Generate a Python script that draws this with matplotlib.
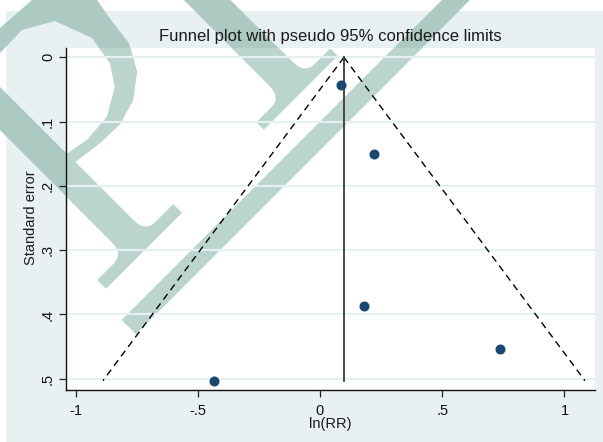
import numpy as np
import matplotlib
matplotlib.use("Agg")
import matplotlib.pyplot as plt
from matplotlib.patches import Rectangle, PathPatch, Polygon
from matplotlib.path import Path

plt.rcParams['font.family'] = ['Liberation Sans', 'DejaVu Sans']

# study estimates
lnrr = [0.085, 0.222, 0.181, 0.736, -0.434]
se = [0.043, 0.150, 0.387, 0.453, 0.503]

# pooled estimate and funnel depth
theta = 0.098
se_max = 0.503
z95 = 1.96

yticks = [0, 0.1, 0.2, 0.3, 0.4, 0.5]
ytick_labels = ["0", ".1", ".2", ".3", ".4", ".5"]
xticks = [-1, -0.5, 0, 0.5, 1]
xtick_labels = ["-1", "-.5", "0", ".5", "1"]

W, H = 603, 442
BG = '#e8f0f1'
MARK_BG = '#acc9c2'
MARK_WHITE = '#bbd5ce'

fig = plt.figure(figsize=(W / 100, H / 100), dpi=100, facecolor='white')

# panel layout in pixels
L, R, T, B = 66, 595, 48, 390
ax_rect = [L / W, 1 - B / H, (R - L) / W, (B - T) / H]

fig.add_artist(Rectangle((6 / W, 0), 1 - 6 / W, 1 - 11 / H, transform=fig.transFigure,
                         facecolor=BG, edgecolor='none', zorder=-3))
plot_bg = Rectangle((ax_rect[0], ax_rect[1]), ax_rect[2], ax_rect[3], transform=fig.transFigure,
                    facecolor='white', edgecolor='none', zorder=-2.5)
fig.add_artist(plot_bg)


# ---- logo watermark, drawn in pixel space ----
def to_fig(pts):
    return [(x / W, 1 - y / H) for x, y in pts]


def uv(u, v):
    s = np.sqrt(2)
    return ((u + v) / s, (u - v) / s)


def bracket(p0, c, p1, n=6):
    t = np.linspace(0, 1, n)
    p0, c, p1 = map(np.array, (p0, c, p1))
    return [tuple((1 - k) ** 2 * p0 + 2 * (1 - k) * k * c + k ** 2 * p1) for k in t]


def stem_with_foot(v0, v1, ub, uf0, uf1, fv0, fv1):
    pts = [(-200, v0)]
    pts += bracket((ub, v0), (uf0, v0), (uf0, v0 - 14))
    pts += [(uf0, fv0), (uf1, fv0), (uf1, fv1), (uf0, fv1)]
    pts += bracket((uf0, v1 + 14), (uf0, v1), (ub, v1))
    pts += [(-200, v1)]
    return [uv(u, v) for u, v in pts]


p_stem = stem_with_foot(-92, -61.5, 250, 267, 279, -129, -22)
l_stem = stem_with_foot(130, 163, 251, 268, 278, 95, 199)
underline = [uv(312.5, -140), uv(332.3, -140), uv(332.3, 700), uv(312.5, 700)]

bowl_outer = [(75, 162), (100, 143), (120, 124), (133, 100), (137, 72), (129, 43), (111, 20),
              (97, 0), (85, -15), (65, -22), (45, -15), (32, 0), (0, 28), (-30, 57)]
bowl_inner = [(67, 154), (87, 140), (107, 117), (115, 87), (110, 63), (92, 38), (55, 21),
              (22, 30), (0, 53), (-15, 72)][::-1]


def bowl_path():
    verts, codes = [], []
    for ring in (bowl_outer, bowl_inner):
        r = to_fig(ring)
        verts += r + [r[0]]
        codes += [Path.MOVETO] + [Path.LINETO] * (len(r) - 1) + [Path.CLOSEPOLY]
    return Path(verts, codes)


for color, z, clip in [(MARK_BG, -1.0, False), (MARK_WHITE, -0.9, True)]:
    shapes = [Polygon(to_fig(p), closed=True) for p in (p_stem, l_stem, underline)]
    shapes.append(PathPatch(bowl_path()))
    for s in shapes:
        s.set_transform(fig.transFigure)
        s.set_facecolor(color)
        s.set_edgecolor('none')
        s.set_zorder(z)
        fig.add_artist(s)
        if clip:
            s.set_clip_path(plot_bg)

# ---- funnel plot ----
ax = fig.add_axes(ax_rect)
ax.set_facecolor('none')

se_line = np.array([0, se_max])
ax.plot(theta - z95 * se_line, se_line, color='black', lw=1.0, ls=(0, (5, 3.5)))
ax.plot(theta + z95 * se_line, se_line, color='black', lw=1.0, ls=(0, (5, 3.5)))
ax.plot([theta, theta], [0, se_max], color='#3a3a3a', lw=1.3)
ax.plot(lnrr, se, 'o', color='#1a476f', markersize=6.2, zorder=3)

ax.set_xlim(-1.039, 1.125)
ax.set_ylim(0.5175, -0.0145)

ax.set_yticks(yticks)
ax.set_yticklabels(ytick_labels, rotation=90, va='center')
ax.set_xticks(xticks)
ax.set_xticklabels(xtick_labels)
ax.tick_params(axis='both', direction='out', length=5, width=0.9, color='#222222',
               labelsize=10.5, labelcolor='#111111')
ax.tick_params(axis='y', pad=3)
ax.tick_params(axis='x', pad=5)

for y in yticks:
    ax.axhline(y, color='#e6f0f0', lw=1.6, zorder=0.5)

for side in ['top', 'right']:
    ax.spines[side].set_visible(False)
for side in ['left', 'bottom']:
    ax.spines[side].set_color('#111111')
    ax.spines[side].set_linewidth(1.0)

fig.text(330 / W, 1 - 36 / H, "Funnel plot with pseudo 95% confidence limits",
         ha='center', va='center', fontsize=12, color='#1a1a1a')
fig.text(31 / W, 1 - 218 / H, "Standard error", rotation=90,
         ha='center', va='center', fontsize=10.5, color='#1a1a1a')
fig.text(330 / W, 1 - 424 / H, "ln(RR)", ha='center', va='center', fontsize=10.5, color='#1a1a1a')

fig.savefig('out.png', dpi=100, facecolor=fig.get_facecolor())
